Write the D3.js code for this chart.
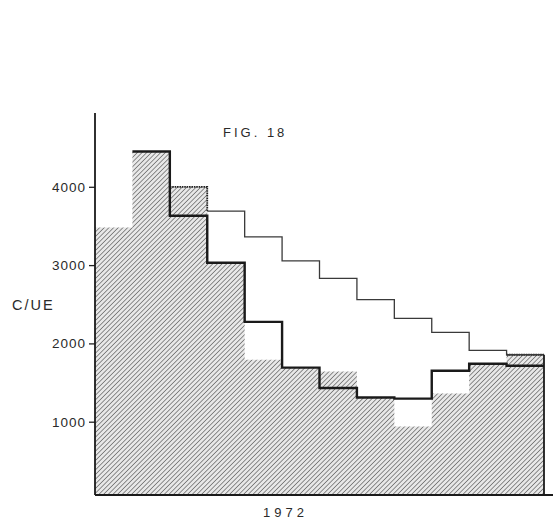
<!DOCTYPE html>
<html>
<head>
<meta charset="utf-8">
<script src="https://cdn.jsdelivr.net/npm/d3@7"></script>
<style>
  html, body { margin: 0; padding: 0; background: #fff; }
  svg { display: block; }
  text { font-family: "Liberation Sans", Arial, sans-serif; fill: #2a2a2a; }
</style>
</head>
<body>
<svg id="chart" width="553" height="523"></svg>
<script>
// Monthly C/UE for 1972 (months 1..12)
const months = [1, 2, 3, 4, 5, 6, 7, 8, 9, 10, 11, 12];
// hatched histogram
const shaded = [3480, 4450, 4000, 3030, 1790, 1690, 1640, 1310, 940, 1360, 1740, 1855];
// heavy step line
const heavy  = [null, 4450, 3630, 3030, 2275, 1690, 1430, 1310, 1295, 1650, 1740, 1715];
// light step line
const light  = [null, null, null, 3690, 3360, 3055, 2830, 2560, 2320, 2140, 1910, 1855];
// months whose hatched top is outlined with a dotted edge
const outlined = [3, 12];
const yTicks = [1000, 2000, 3000, 4000];
const yLabel = "C/UE";
const xLabel = "1972";
const title = "FIG. 18";

const svg = d3.select("#chart");

const x = d3.scaleLinear().domain([0, 12]).range([95, 544]);
const y = d3.scaleLinear().domain([0, 5000]).range([500, 108.5]);
const baseY = 495;

// hatch pattern, strokes rising to the right
const defs = svg.append("defs");
const pat = defs.append("pattern")
  .attr("id", "hatch")
  .attr("patternUnits", "userSpaceOnUse")
  .attr("width", 3.3).attr("height", 3.3)
  .attr("patternTransform", "rotate(45)");
pat.append("rect").attr("width", 3.3).attr("height", 3.3).attr("fill", "#e8e8e8");
pat.append("line")
  .attr("x1", 0).attr("y1", 0).attr("x2", 0).attr("y2", 3.3)
  .attr("stroke", "#626262").attr("stroke-width", 1.4);

// step series helper: month i occupies [i, i+1]
function steps(values) {
  const pts = [];
  values.forEach((v, i) => {
    if (v == null) return;
    pts.push({ x0: i, x1: i + 1, v });
  });
  return pts;
}

// hatched area
const shadedPts = steps(shaded);
const area = d3.area()
  .x(d => x(d[0]))
  .y0(baseY)
  .y1(d => y(d[1]));
const areaData = [];
shadedPts.forEach(p => { areaData.push([p.x0, p.v]); areaData.push([p.x1, p.v]); });
svg.append("path")
  .attr("d", area(areaData))
  .attr("fill", "url(#hatch)");

// dotted outline on the exposed hatched tops
outlined.forEach(m => {
  const i = m - 1;
  const v = shaded[i];
  const pts = [[x(i), y(v)], [x(i + 1), y(v)]];
  if (i + 1 < 12) pts.push([x(i + 1), y(light[i + 1] ?? v)]);
  svg.append("path")
    .attr("d", d3.line()(pts))
    .attr("fill", "none")
    .attr("stroke", "#222")
    .attr("stroke-width", 1.8)
    .attr("stroke-dasharray", "1.6,0.8");
});

// step line helper (stepAfter with trailing point)
function stepLine(values) {
  const pts = [];
  values.forEach((v, i) => { if (v != null) pts.push([i, v]); });
  const last = pts[pts.length - 1];
  pts.push([last[0] + 1, last[1]]);
  return d3.line().curve(d3.curveStepAfter).x(d => x(d[0])).y(d => y(d[1]))(pts);
}

svg.append("path")
  .attr("d", stepLine(light))
  .attr("fill", "none")
  .attr("stroke", "#3a3a3a")
  .attr("stroke-width", 1.3);

svg.append("path")
  .attr("d", stepLine(heavy))
  .attr("fill", "none")
  .attr("stroke", "#1a1a1a")
  .attr("stroke-width", 2.4);

// right closing edge of the last month
svg.append("line")
  .attr("x1", x(12)).attr("x2", x(12))
  .attr("y1", y(light[11])).attr("y2", baseY)
  .attr("stroke", "#1a1a1a").attr("stroke-width", 1.8);

// baseline
svg.append("line")
  .attr("x1", 95).attr("x2", 553)
  .attr("y1", baseY).attr("y2", baseY)
  .attr("stroke", "#1a1a1a").attr("stroke-width", 1.8);

// y axis
const yAxis = d3.axisLeft(y).tickValues(yTicks).tickSize(6).tickPadding(3).tickFormat(d3.format("d"));
const gy = svg.append("g").attr("transform", `translate(${x(0)},0)`).call(yAxis);
gy.select(".domain").remove();
gy.selectAll(".tick line").attr("stroke", "#222").attr("stroke-width", 1.3);
gy.selectAll(".tick text")
  .attr("font-size", 13.5)
  .attr("letter-spacing", 1)
  .attr("fill", "#262626")
  .style("font-family", "Liberation Sans, Arial, sans-serif");
svg.append("line")
  .attr("x1", x(0)).attr("x2", x(0))
  .attr("y1", 113).attr("y2", baseY)
  .attr("stroke", "#1a1a1a").attr("stroke-width", 1.8);

// labels
svg.append("text").attr("x", 12).attr("y", 310)
  .attr("font-size", 14.5).attr("letter-spacing", 2).text(yLabel);
svg.append("text").attr("x", 263).attr("y", 517)
  .attr("font-size", 13).attr("letter-spacing", 4).text(xLabel);
svg.append("text").attr("x", 223).attr("y", 137)
  .attr("font-size", 13).attr("letter-spacing", 3).text(title);
</script>
</body>
</html>
